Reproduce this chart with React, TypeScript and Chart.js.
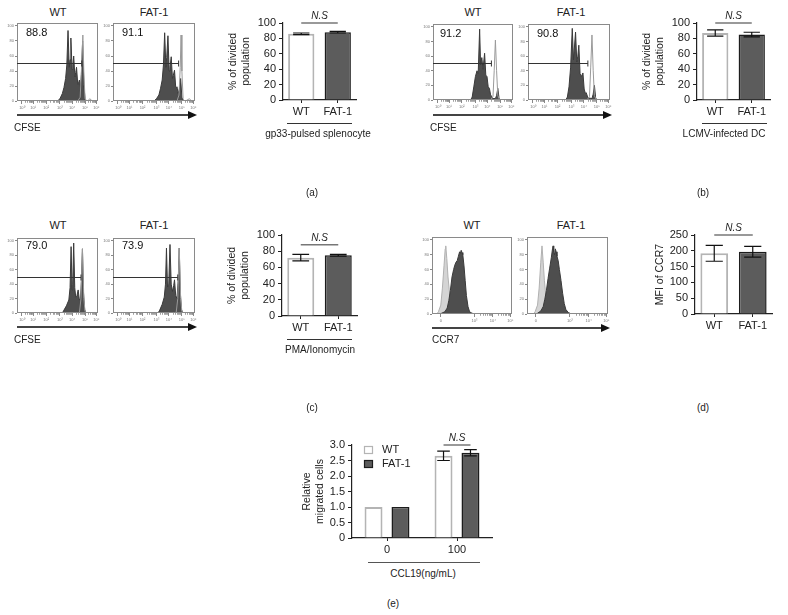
import React, { useEffect, useRef } from 'react';
import { Chart, registerables } from 'chart.js';

Chart.register(...registerables);

const FONT = "'Liberation Sans', Arial, sans-serif";
const INK = '#222';

// ---------------- data ----------------
type Pt = [number, number];

const GROUPS = ['WT', 'FAT-1'];

const DIV_GP33 = [86, 88];
const DIV_GP33_ERR = [1, 1];
const DIV_LCMV = [87, 85];
const DIV_LCMV_ERR = [4, 3];
const DIV_PMA = [72, 75];
const DIV_PMA_ERR = [4, 1];
const MFI_CCR7 = [192, 197];
const MFI_CCR7_ERR = [25, 17];

const CCL19_DOSES = ['0', '100'];
const MIG_WT = [1.0, 2.65];
const MIG_WT_ERR = [0, 0.15];
const MIG_FAT = [1.0, 2.75];
const MIG_FAT_ERR = [0, 0.1];

const NS_LEVEL_A = 100;
const NS_LEVEL_B = 100;
const NS_LEVEL_C = 88;
const NS_LEVEL_D = 250;
const NS_LEVEL_E = 3.0;

// flow cytometry histograms (x: 0-100 across the plot, y: % of max)
const CFSE_TICKS = [6, 20, 36, 53, 68, 84, 98];
const CFSE_TICK_LABELS = ['10⁰', '10¹', '10²', '10³', '10⁴', '10⁵', '10⁶'];
const CCR7_TICKS = [11, 53, 76, 98];
const CCR7_TICK_LABELS = ['0', '10³', '10⁴', '10⁵'];
const HIST_Y_TICKS = [0, 20, 40, 60, 80, 100];

const PCT_A = ['88.8', '91.1'];
const PCT_B = ['91.2', '90.8'];
const PCT_C = ['79.0', '73.9'];
const GATE_A = [80, 80];
const GATE_B = [73, 73];
const GATE_C = [79, 79];

const A_WT_FILL: Pt[] = [[0,0],[50,0],[53,3],[56,10],[58,18],[60,30],[61.5,48],[63,94],[64.5,45],[65.5,55],[66.5,84],[68,42],[69,48],[70,60],[71.5,32],[72.5,38],[73.5,45],[75,22],[76,24],[77,28],[78.5,18],[79.5,35],[81,80],[82.5,22],[84,3],[86,0],[100,0]];
const A_WT_LINE: Pt[] = [[75,0],[78,5],[79.5,40],[81.3,88],[82.5,40],[84,3],[86,0],[88,1],[90,3],[92,1],[95,0]];
const A_FAT_FILL: Pt[] = [[0,0],[50,0],[53,3],[56,8],[58,17],[60,28],[61.5,48],[63,91],[64.5,45],[65.5,58],[67,87],[68.5,40],[69.5,45],[71,59],[72.5,30],[73.5,34],[75,41],[76.5,18],[77.2,18],[78,19],[79.5,10],[81,16],[82.5,30],[84,5],[86,0],[100,0]];
const A_FAT_LINE: Pt[] = [[78,0],[80.5,8],[82,45],[83,88],[84,40],[85.5,3],[87,0],[90,1],[93,3],[96,0]];

const B_WT_FILL: Pt[] = [[0,0],[47,0],[49,4],[51,18],[53,32],[55,40],[56.5,36],[58.3,97],[59.5,48],[61,58],[62.5,42],[64.5,64],[66,34],[67.5,32],[69,18],[70.5,16],[72,7],[75,2],[78,2],[79.5,6],[81,16],[82.5,3],[84,0],[100,0]];
const B_WT_LINE: Pt[] = [[72,0],[75,5],[76.5,40],[78,82],[79.5,40],[81,6],[83,1],[86,0],[100,0]];
const B_FAT_FILL: Pt[] = [[0,0],[46,0],[48,4],[50,18],[52,45],[54,98],[55.5,55],[58,93],[59.5,52],[60.8,60],[62,75],[63.5,36],[65,32],[67,37],[68.5,15],[70,9],[71,10],[73,3],[78,2],[79.5,8],[81,20],[82.5,3],[84,0],[100,0]];
const B_FAT_LINE: Pt[] = [[72,0],[75,5],[76.5,45],[78,89],[79.5,40],[81,6],[83,1],[86,0],[100,0]];

const C_WT_FILL: Pt[] = [[0,0],[56,0],[58,4],[61,10],[64,18],[65.5,35],[66.8,92],[68,32],[68.8,40],[70,97],[71.3,35],[72.5,22],[74,24],[75.5,32],[77,18],[78.5,20],[79.5,45],[80.8,89],[82,30],[83.5,5],[85,0],[100,0]];
const C_WT_LINE: Pt[] = [[77,0],[79,20],[80.8,89],[82.5,20],[84,2],[86,0]];
const C_FAT_FILL: Pt[] = [[0,0],[55,0],[57,4],[60,12],[62.5,22],[64,40],[65.2,90],[66.5,36],[68,40],[69.5,95],[71,40],[72.5,30],[74,38],[75,46],[76.5,24],[78,20],[79.5,45],[80.8,90],[82,30],[83.5,5],[85,0],[100,0]];
const C_FAT_LINE: Pt[] = [[77,0],[79,20],[80.8,90],[82.5,20],[84,2],[86,0]];

const D_WT_ISO: Pt[] = [[0,0],[6,0],[8,3],[11,12],[13,35],[15,65],[16.5,88],[17.2,92],[18.5,75],[20,50],[22,28],[24,12],[26,5],[29,1],[32,0],[100,0]];
const D_WT_CCR7: Pt[] = [[0,0],[9,0],[12,1],[16,3],[19,8],[21,18],[23,32],[25,50],[27,60],[28.5,66],[30,70],[31.5,72],[33,78],[34.5,84],[35.5,82],[36.5,86],[37.5,83],[38.5,80],[40,65],[41.5,45],[43,25],[45,10],[47,3],[50,1],[55,0],[100,0]];
const D_FAT_ISO: Pt[] = [[0,0],[8,0],[10,3],[13,12],[15,35],[17,70],[18.5,92],[20,70],[21.5,45],[23.5,22],[25.5,8],[28,2],[31,0],[100,0]];
const D_FAT_CCR7: Pt[] = [[0,0],[10,0],[13,1],[17,4],[20,10],[22,20],[24,32],[26,48],[28,62],[30,76],[31.5,88],[32.2,92],[33,84],[34,80],[35,88],[36,84],[37,78],[38.5,72],[40,60],[42,45],[44,28],[46,14],[48,6],[51,2],[55,0],[100,0]];

// ---------------- plugins ----------------
const framePlugin = {
  id: 'frame',
  afterDatasetsDraw(chart: any, _a: any, opts: any) {
    if (!opts || !opts.show) return;
    const { ctx, chartArea: c } = chart;
    ctx.save();
    ctx.strokeStyle = '#8a8a8a';
    ctx.lineWidth = 1;
    ctx.strokeRect(Math.round(c.left) + 0.5, Math.round(c.top) + 0.5, Math.round(c.right - c.left) - 1, Math.round(c.bottom - c.top) - 1);
    ctx.restore();
  },
};

const gatePlugin = {
  id: 'gate',
  afterDatasetsDraw(chart: any, _a: any, opts: any) {
    if (!opts || opts.end == null) return;
    const { ctx, chartArea: c, scales } = chart;
    const y = Math.round(scales.y.getPixelForValue(50)) + 0.5;
    const xe = scales.x.getPixelForValue(opts.end);
    ctx.save();
    ctx.strokeStyle = '#333';
    ctx.lineWidth = 1;
    ctx.beginPath();
    ctx.moveTo(c.left, y);
    ctx.lineTo(xe, y);
    ctx.moveTo(xe, y - 3);
    ctx.lineTo(xe, y + 3);
    ctx.stroke();
    if (opts.pct) {
      ctx.fillStyle = '#111';
      ctx.font = `11px ${FONT}`;
      ctx.textAlign = 'left';
      ctx.textBaseline = 'middle';
      ctx.fillText(opts.pct, c.left + (opts.dx ?? 9), c.top + (opts.dy ?? 10));
    }
    ctx.restore();
  },
};

const minorTickPlugin = {
  id: 'minorTicks',
  afterDraw(chart: any, _a: any, opts: any) {
    if (!opts || !opts.majors) return;
    const { ctx, chartArea: c, scales } = chart;
    const m: number[] = opts.majors;
    ctx.save();
    ctx.strokeStyle = '#888';
    ctx.lineWidth = 0.8;
    ctx.beginPath();
    for (let i = opts.from || 0; i < m.length - 1; i++) {
      for (let k = 2; k <= 9; k++) {
        const v = m[i] + (m[i + 1] - m[i]) * Math.log10(k);
        const x = Math.round(scales.x.getPixelForValue(v)) + 0.5;
        ctx.moveTo(x, c.bottom);
        ctx.lineTo(x, c.bottom + 1.8);
      }
    }
    ctx.stroke();
    ctx.restore();
  },
};

const errorBarPlugin = {
  id: 'errorBars',
  afterDatasetsDraw(chart: any, _a: any, opts: any) {
    if (!opts || !opts.errors) return;
    const { ctx, scales } = chart;
    ctx.save();
    ctx.strokeStyle = '#111';
    ctx.lineWidth = 1.2;
    chart.data.datasets.forEach((ds: any, i: number) => {
      const meta = chart.getDatasetMeta(i);
      meta.data.forEach((bar: any, j: number) => {
        const e = opts.errors[i] ? opts.errors[i][j] : 0;
        if (!e) return;
        const v = ds.data[j];
        const yT = scales.y.getPixelForValue(v + e);
        const yB = scales.y.getPixelForValue(v - e);
        const half = (bar.width * (opts.cap || 0.6)) / 2;
        ctx.beginPath();
        ctx.moveTo(bar.x, yT);
        ctx.lineTo(bar.x, yB);
        ctx.moveTo(bar.x - half, yT);
        ctx.lineTo(bar.x + half, yT);
        ctx.moveTo(bar.x - half, yB);
        ctx.lineTo(bar.x + half, yB);
        ctx.stroke();
      });
    });
    ctx.restore();
  },
};

const nsPlugin = {
  id: 'nsLine',
  afterDatasetsDraw(chart: any, _a: any, opts: any) {
    if (!opts || opts.value == null) return;
    const { ctx, scales } = chart;
    const xa = chart.getDatasetMeta(opts.a[0]).data[opts.a[1]].x;
    const xb = chart.getDatasetMeta(opts.b[0]).data[opts.b[1]].x;
    const y = scales.y.getPixelForValue(opts.value);
    ctx.save();
    ctx.strokeStyle = '#777';
    ctx.lineWidth = 1.5;
    ctx.beginPath();
    ctx.moveTo(xa, y);
    ctx.lineTo(xb, y);
    ctx.stroke();
    ctx.fillStyle = INK;
    ctx.font = `italic 10px ${FONT}`;
    ctx.textAlign = 'center';
    ctx.textBaseline = 'bottom';
    ctx.fillText('N.S', (xa + xb) / 2, y - 2);
    ctx.restore();
  },
};

const boxLegendPlugin = {
  id: 'boxLegend',
  afterDraw(chart: any, _a: any, opts: any) {
    if (!opts || !opts.show) return;
    const { ctx, chartArea: c } = chart;
    ctx.save();
    ctx.font = `11px ${FONT}`;
    ctx.textAlign = 'left';
    ctx.textBaseline = 'middle';
    chart.data.datasets.forEach((ds: any, i: number) => {
      const x = c.left + opts.dx;
      const y = c.top + opts.dy + i * opts.gap;
      ctx.fillStyle = ds.backgroundColor;
      ctx.fillRect(x, y, 9, 8);
      ctx.strokeStyle = ds.borderColor;
      ctx.lineWidth = 1.2;
      ctx.strokeRect(x + 0.5, y + 0.5, 8, 7);
      ctx.fillStyle = INK;
      ctx.fillText(ds.label, x + 18, y + 4);
    });
    ctx.restore();
  },
};

Chart.register(framePlugin, gatePlugin, minorTickPlugin, errorBarPlugin, nsPlugin, boxLegendPlugin);

// ---------------- helpers ----------------
function ChartCanvas({ left, top, width, height, make }: any) {
  const ref = useRef<HTMLCanvasElement>(null);
  useEffect(() => {
    const chart = new Chart(ref.current as HTMLCanvasElement, make());
    return () => chart.destroy();
  }, []);
  return (
    <canvas
      ref={ref}
      width={width}
      height={height}
      style={{ position: 'absolute', left, top, width, height }}
    />
  );
}

function Txt({ x, y, size = 10, align = 'left', italic = false, children }: any) {
  const lh = Math.round(size * 1.3);
  const tx = align === 'center' ? 'translateX(-50%)' : align === 'right' ? 'translateX(-100%)' : 'none';
  return (
    <div
      style={{
        position: 'absolute',
        left: x,
        top: y - lh / 2,
        fontSize: size,
        fontWeight: 'normal',
        lineHeight: `${lh}px`,
        fontFamily: FONT,
        fontStyle: italic ? 'italic' : 'normal',
        color: INK,
        whiteSpace: 'nowrap',
        transform: tx,
      }}
    >
      {children}
    </div>
  );
}

function HLine({ x1, x2, y, color = '#333', w = 1 }: any) {
  return <div style={{ position: 'absolute', left: x1, top: y, width: x2 - x1, height: w, background: color }} />;
}

function Arrow({ x1, x2, y }: any) {
  const w = x2 - x1 + 2;
  return (
    <svg style={{ position: 'absolute', left: x1, top: y - 5 }} width={w} height={10}>
      <line x1={0} y1={5} x2={w - 6} y2={5} stroke="#444" strokeWidth={2} />
      <polygon points={`${w - 9},1 ${w},5 ${w - 9},9`} fill="#111" />
    </svg>
  );
}

type Box = { l: number; t: number; w: number; h: number };

function Histogram({ box, series, ticks, tickLabels, gate, pct, minorFrom, pctDy, pctDx }: any) {
  const b: Box = box;
  const padL = 12, padT = 4, padR = 5, padB = 10;
  const make = () => ({
    type: 'scatter',
    data: {
      datasets: series.map((s: any) => ({
        data: s.pts.map(([x, y]: Pt) => ({ x, y })),
        showLine: true,
        fill: s.fill ? 'origin' : false,
        backgroundColor: s.fill || 'transparent',
        borderColor: s.line,
        borderWidth: s.lw || 1,
        pointRadius: 0,
        tension: 0,
        order: s.order,
      })),
    },
    options: {
      animation: false,
      responsive: false,
      events: [],
      layout: { padding: { left: 0, top: padT, right: padR, bottom: 0 } },
      plugins: {
        legend: { display: false },
        tooltip: { enabled: false },
        frame: { show: true },
        gate: gate != null ? { end: gate, pct, dy: pctDy, dx: pctDx } : {},
        minorTicks: { majors: ticks, from: minorFrom },
      },
      scales: {
        x: {
          type: 'linear',
          min: 0,
          max: 100,
          afterBuildTicks: (s: any) => { s.ticks = ticks.map((v: number) => ({ value: v })); },
          afterFit: (s: any) => { s.height = padB; },
          ticks: {
            autoSkip: false,
            maxRotation: 0,
            padding: 1,
            font: { size: 4, family: FONT },
            color: '#777',
            callback: (_v: any, i: number) => tickLabels[i],
          },
          grid: { display: true, drawOnChartArea: false, tickLength: 3, color: '#888' },
          border: { display: false },
        },
        y: {
          min: 0,
          max: 104,
          afterBuildTicks: (s: any) => { s.ticks = HIST_Y_TICKS.map((v) => ({ value: v })); },
          afterFit: (s: any) => { s.width = padL; },
          ticks: { autoSkip: false, padding: 1, font: { size: 4, family: FONT }, color: '#777' },
          grid: { display: true, drawOnChartArea: false, tickLength: 2, color: '#888' },
          border: { display: false },
        },
      },
    },
  });
  return (
    <ChartCanvas left={b.l - padL} top={b.t - padT} width={b.w + padL + padR} height={b.h + padT + padB} make={make} />
  );
}

type Plot = { l: number; t: number; r: number; b: number };

function BarPanel({ plot, yW, yTitle, yMax, yStep, fmt, labels, datasets, errors, ns, legend, barPct, catPct, cap }: any) {
  const p: Plot = plot;
  const padT = 30, padR = 10, xH = 24;
  const left = p.l - yW;
  const top = p.t - padT;
  const width = p.r - left + padR;
  const height = p.b + xH - top;
  const make = () => ({
    type: 'bar',
    data: {
      labels,
      datasets: datasets.map((d: any) => ({
        label: d.label,
        data: d.data,
        backgroundColor: d.bg,
        borderColor: d.border,
        borderWidth: d.bw,
        barPercentage: barPct,
        categoryPercentage: catPct,
      })),
    },
    options: {
      animation: false,
      responsive: false,
      events: [],
      layout: { padding: { left: 0, top: padT, right: padR, bottom: 0 } },
      plugins: {
        legend: { display: false },
        tooltip: { enabled: false },
        errorBars: { errors, cap },
        nsLine: ns,
        boxLegend: legend || {},
      },
      scales: {
        x: {
          afterFit: (s: any) => { s.height = xH; },
          ticks: { font: { size: 11, family: FONT }, color: INK, padding: 2 },
          grid: { display: true, drawOnChartArea: false, offset: false, tickLength: 3, color: INK, lineWidth: 1 },
          border: { display: true, color: INK, width: 1.2 },
        },
        y: {
          min: 0,
          max: yMax,
          afterFit: (s: any) => { s.width = yW; },
          ticks: {
            autoSkip: false,
            stepSize: yStep,
            font: { size: 11, family: FONT },
            color: INK,
            padding: 3,
            callback: fmt || ((v: number) => String(v)),
          },
          grid: { display: true, drawOnChartArea: false, tickLength: 4, color: INK, lineWidth: 1 },
          border: { display: true, color: INK, width: 1.2 },
          title: { display: true, text: yTitle, font: { size: 10.5, family: FONT }, color: INK, padding: 0 },
        },
      },
    },
  });
  return <ChartCanvas left={left} top={top} width={width} height={height} make={make} />;
}

const WT_BAR = { bg: '#ffffff', border: '#b4b4b4', bw: 2 };
const FAT_BAR = { bg: '#5c5c5c', border: '#1c1c1c', bw: 1.5 };

function twoBars(values: number[]) {
  return [
    {
      label: 'value',
      data: values,
      bg: [WT_BAR.bg, FAT_BAR.bg],
      border: [WT_BAR.border, FAT_BAR.border],
      bw: [WT_BAR.bw, FAT_BAR.bw],
    },
  ];
}

const DARK = '#4e4e4e';
const OUTLINE = '#9a9a9a';

function cfseSeries(fill: Pt[], line: Pt[]) {
  return [
    { pts: fill, fill: DARK, line: '#3a3a3a', order: 1 },
    { pts: line, fill: false, line: OUTLINE, order: 0 },
  ];
}
function ccr7Series(iso: Pt[], ccr7: Pt[]) {
  return [
    { pts: iso, fill: '#d4d4d4', line: '#b0b0b0', order: 1 },
    { pts: ccr7, fill: DARK, line: '#3a3a3a', order: 0 },
  ];
}

const DIV_TITLE = ['% of divided', 'population'];

export default function App() {
  return (
    <div style={{ position: 'absolute', left: 0, top: 0, width: 788, height: 615, background: '#fff', overflow: 'hidden' }}>
      {/* ---------- (a) ---------- */}
      <Txt x={58} y={12} size={11} align="center">WT</Txt>
      <Txt x={154} y={12} size={11} align="center">FAT-1</Txt>
      <Histogram box={{ l: 17, t: 23, w: 81, h: 78 }} series={cfseSeries(A_WT_FILL, A_WT_LINE)} ticks={CFSE_TICKS} tickLabels={CFSE_TICK_LABELS} gate={GATE_A[0]} pct={PCT_A[0]} />
      <Histogram box={{ l: 113, t: 23, w: 82, h: 78 }} series={cfseSeries(A_FAT_FILL, A_FAT_LINE)} ticks={CFSE_TICKS} tickLabels={CFSE_TICK_LABELS} gate={GATE_A[1]} pct={PCT_A[1]} />
      <Arrow x1={17} x2={195} y={115} />
      <Txt x={14} y={127}>CFSE</Txt>
      <BarPanel plot={{ l: 283, t: 23, r: 356, b: 100 }} yW={56} yTitle={DIV_TITLE} yMax={100} yStep={20} labels={GROUPS}
        datasets={twoBars(DIV_GP33)} errors={[DIV_GP33_ERR]} ns={{ a: [0, 0], b: [0, 1], value: NS_LEVEL_A }} barPct={0.72} catPct={1} cap={0.62} />
      <HLine x1={287} x2={352} y={123} />
      <Txt x={318} y={133} align="center">gp33-pulsed splenocyte</Txt>
      <Txt x={312} y={192} align="center">(a)</Txt>

      {/* ---------- (b) ---------- */}
      <Txt x={473} y={12} size={11} align="center">WT</Txt>
      <Txt x={571} y={12} size={11} align="center">FAT-1</Txt>
      <Histogram box={{ l: 433, t: 24, w: 80, h: 76 }} series={cfseSeries(B_WT_FILL, B_WT_LINE)} ticks={CFSE_TICKS} tickLabels={CFSE_TICK_LABELS} gate={GATE_B[0]} pct={PCT_B[0]} pctDx={7} />
      <Histogram box={{ l: 528, t: 24, w: 82, h: 76 }} series={cfseSeries(B_FAT_FILL, B_FAT_LINE)} ticks={CFSE_TICKS} tickLabels={CFSE_TICK_LABELS} gate={GATE_B[1]} pct={PCT_B[1]} />
      <Arrow x1={433} x2={610} y={115} />
      <Txt x={430} y={127}>CFSE</Txt>
      <BarPanel plot={{ l: 697, t: 23, r: 770, b: 100 }} yW={56} yTitle={DIV_TITLE} yMax={100} yStep={20} labels={GROUPS}
        datasets={twoBars(DIV_LCMV)} errors={[DIV_LCMV_ERR]} ns={{ a: [0, 0], b: [0, 1], value: NS_LEVEL_B }} barPct={0.72} catPct={1} cap={0.62} />
      <HLine x1={702} x2={767} y={123} />
      <Txt x={724} y={133} align="center">LCMV-infected DC</Txt>
      <Txt x={703} y={192} align="center">(b)</Txt>

      {/* ---------- (c) ---------- */}
      <Txt x={58} y={225} size={11} align="center">WT</Txt>
      <Txt x={154} y={225} size={11} align="center">FAT-1</Txt>
      <Histogram box={{ l: 17, t: 238, w: 81, h: 75 }} series={cfseSeries(C_WT_FILL, C_WT_LINE)} ticks={CFSE_TICKS} tickLabels={CFSE_TICK_LABELS} gate={GATE_C[0]} pct={PCT_C[0]} pctDy={8} />
      <Histogram box={{ l: 113, t: 238, w: 82, h: 75 }} series={cfseSeries(C_FAT_FILL, C_FAT_LINE)} ticks={CFSE_TICKS} tickLabels={CFSE_TICK_LABELS} gate={GATE_C[1]} pct={PCT_C[1]} pctDy={8} />
      <Arrow x1={17} x2={195} y={327} />
      <Txt x={14} y={339}>CFSE</Txt>
      <BarPanel plot={{ l: 282, t: 235, r: 357, b: 316 }} yW={56} yTitle={DIV_TITLE} yMax={100} yStep={20} labels={GROUPS}
        datasets={twoBars(DIV_PMA)} errors={[DIV_PMA_ERR]} ns={{ a: [0, 0], b: [0, 1], value: NS_LEVEL_C }} barPct={0.72} catPct={1} cap={0.62} />
      <HLine x1={287} x2={352} y={339} />
      <Txt x={320} y={349} align="center">PMA/Ionomycin</Txt>
      <Txt x={312} y={407} align="center">(c)</Txt>

      {/* ---------- (d) ---------- */}
      <Txt x={472} y={225} size={11} align="center">WT</Txt>
      <Txt x={571} y={225} size={11} align="center">FAT-1</Txt>
      <Histogram box={{ l: 432, t: 237, w: 80, h: 77 }} series={ccr7Series(D_WT_ISO, D_WT_CCR7)} ticks={CCR7_TICKS} tickLabels={CCR7_TICK_LABELS} minorFrom={1} />
      <Histogram box={{ l: 527, t: 237, w: 81, h: 77 }} series={ccr7Series(D_FAT_ISO, D_FAT_CCR7)} ticks={CCR7_TICKS} tickLabels={CCR7_TICK_LABELS} minorFrom={1} />
      <Arrow x1={432} x2={608} y={328} />
      <Txt x={432} y={339}>CCR7</Txt>
      <BarPanel plot={{ l: 695, t: 235, r: 772, b: 314 }} yW={41} yTitle="MFI of CCR7" yMax={250} yStep={50} labels={GROUPS}
        datasets={twoBars(MFI_CCR7)} errors={[MFI_CCR7_ERR]} ns={{ a: [0, 0], b: [0, 1], value: NS_LEVEL_D }} barPct={0.72} catPct={1} cap={0.62} />
      <Txt x={703} y={407} align="center">(d)</Txt>

      {/* ---------- (e) ---------- */}
      <BarPanel plot={{ l: 352, t: 445, r: 492, b: 538 }} yW={51} yTitle={['Relative', 'migrated cells']} yMax={3} yStep={0.5}
        fmt={(v: number) => (v === 0 ? '0' : v.toFixed(1))} labels={CCL19_DOSES}
        datasets={[
          { label: 'WT', data: MIG_WT, bg: WT_BAR.bg, border: WT_BAR.border, bw: WT_BAR.bw },
          { label: 'FAT-1', data: MIG_FAT, bg: FAT_BAR.bg, border: FAT_BAR.border, bw: FAT_BAR.bw },
        ]}
        errors={[MIG_WT_ERR, MIG_FAT_ERR]} ns={{ a: [0, 1], b: [1, 1], value: NS_LEVEL_E }}
        legend={{ show: true, dx: 12, dy: 1, gap: 14 }} barPct={0.667} catPct={0.77} cap={0.7} />
      <HLine x1={368} x2={480} y={562} color="#555" />
      <Txt x={423} y={573} align="center">CCL19(ng/mL)</Txt>
      <Txt x={393} y={603} align="center">(e)</Txt>
    </div>
  );
}
